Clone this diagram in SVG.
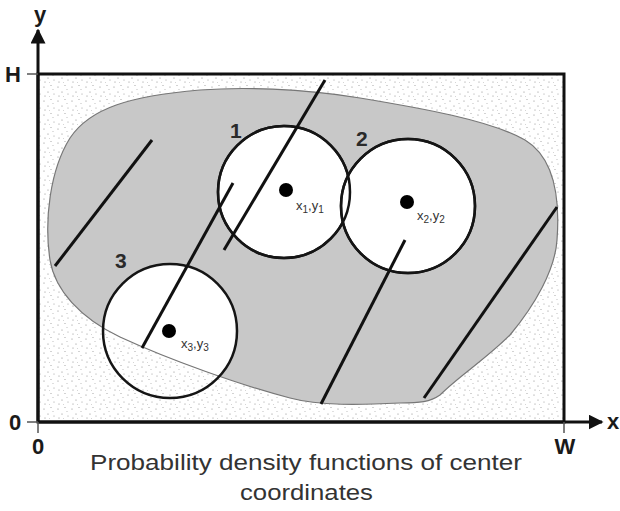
<svg xmlns="http://www.w3.org/2000/svg" width="620" height="511" viewBox="0 0 620 511">
<style>
.ax{stroke:#111;stroke-width:3;fill:none}
.tk{stroke:#555;stroke-width:1.5}
.big{font-family:"Liberation Sans",Arial,sans-serif;font-weight:bold;font-size:22px;fill:#1a1a1a}
.num{font-family:"Liberation Sans",Arial,sans-serif;font-weight:bold;font-size:21px;fill:#2a2a2a}
.sub{font-family:"Liberation Sans",Arial,sans-serif;font-size:13px;fill:#333}
.cap{font-family:"Liberation Sans",Arial,sans-serif;font-size:22px;fill:#333}
.circ{stroke:#151515;stroke-width:2.5}
.ln{stroke:#111;stroke-width:3}
.dot{fill:#000}
</style>
<defs>
<pattern id="stip" width="14" height="14" patternUnits="userSpaceOnUse">
<rect width="14" height="14" fill="#fff"/>
<circle cx="2" cy="3" r="0.6" fill="#888"/>
<circle cx="9" cy="1.5" r="0.55" fill="#999"/>
<circle cx="6" cy="8" r="0.6" fill="#888"/>
<circle cx="12" cy="10" r="0.55" fill="#999"/>
<circle cx="3" cy="12" r="0.55" fill="#888"/>
<circle cx="11" cy="5.5" r="0.5" fill="#aaa"/>
<circle cx="7.5" cy="12.5" r="0.45" fill="#aaa"/>
</pattern>
<path id="blobp" d="M 200 90 C 240 87, 300 88, 360 98 C 420 108, 490 120, 525 140 C 555 158, 560 200, 557 240 C 555 270, 535 305, 510 335 C 485 360, 460 375, 440 395 C 430 402, 420 403, 400 403 C 360 405, 320 406, 290 398 C 240 385, 170 360, 120 337 C 80 318, 55 290, 50 260 C 44 220, 50 170, 70 138 C 90 108, 130 96, 200 90 Z"/>
<clipPath id="c3clip"><circle cx="170" cy="331" r="67"/></clipPath>
<marker id="arr" viewBox="0 0 10 10" refX="9" refY="5" markerWidth="5" markerHeight="5" orient="auto" markerUnits="strokeWidth"><path d="M0,0 L10,5 L0,10 Z" fill="#111"/></marker>
</defs>
<rect width="620" height="511" fill="#fff"/>
<g id="field">
<rect x="38" y="74" width="526" height="348" fill="url(#stip)"/>
<use href="#blobp" fill="#c8c8c8"/>
</g>
<g id="circle1"><circle class="circ" cx="284" cy="192" r="66" fill="#fff"/></g>
<g id="circle2"><circle class="circ" cx="408" cy="206" r="67" fill="#fff"/></g>
<g id="circle3">
<g clip-path="url(#c3clip)"><use href="#blobp" fill="#fff"/></g>
</g>
<use href="#blobp" fill="none" stroke="#777" stroke-width="1.2"/>
<g id="circle-outlines" fill="none">
<circle class="circ" cx="284" cy="192" r="66"/>
<circle class="circ" cx="408" cy="206" r="67"/>
<circle class="circ" cx="170" cy="331" r="67"/>
</g>
<g id="connectors">
<line class="ln" x1="55" y1="266" x2="152" y2="140"/>
<line class="ln" x1="224" y1="250" x2="325" y2="80"/>
<line class="ln" x1="233" y1="183" x2="142" y2="348"/>
<line class="ln" x1="405" y1="240" x2="321" y2="404"/>
<line class="ln" x1="557" y1="207" x2="424" y2="398"/>
</g>
<g id="centers">
<circle class="dot" cx="286" cy="190" r="7"/>
<circle class="dot" cx="407" cy="202" r="7"/>
<circle class="dot" cx="169" cy="331" r="7"/>
<text class="sub" x="296" y="210">x<tspan font-size="10" dy="3">1</tspan><tspan dy="-3">,y</tspan><tspan font-size="10" dy="3">1</tspan></text>
<text class="sub" x="417" y="220">x<tspan font-size="10" dy="3">2</tspan><tspan dy="-3">,y</tspan><tspan font-size="10" dy="3">2</tspan></text>
<text class="sub" x="181" y="348">x<tspan font-size="10" dy="3">3</tspan><tspan dy="-3">,y</tspan><tspan font-size="10" dy="3">3</tspan></text>
</g>
<g id="labels">
<text class="num" x="230" y="138">1</text>
<text class="num" x="356" y="146">2</text>
<text class="num" x="115" y="268">3</text>
</g>
<g id="axes">
<rect class="ax" x="38" y="74" width="526" height="348"/>
<line class="ax" x1="38" y1="422" x2="38" y2="30" marker-end="url(#arr)"/>
<line class="ax" x1="38" y1="422" x2="602" y2="422" marker-end="url(#arr)"/>
<line class="tk" x1="27" y1="74" x2="38" y2="74"/>
<line class="tk" x1="27" y1="422" x2="38" y2="422"/>
<line class="tk" x1="38" y1="422" x2="38" y2="433"/>
<line class="tk" x1="564" y1="422" x2="564" y2="433"/>
<text class="big" x="40" y="22" text-anchor="middle">y</text>
<text class="big" x="13" y="82" text-anchor="middle">H</text>
<text class="big" x="15" y="430" text-anchor="middle">0</text>
<text class="big" x="38" y="454" text-anchor="middle">0</text>
<text class="big" x="565" y="454" text-anchor="middle">W</text>
<text class="big" x="613" y="429" text-anchor="middle">x</text>
</g>
<g id="caption">
<text class="cap" x="90" y="470" textLength="432" lengthAdjust="spacingAndGlyphs">Probability density functions of center</text>
<text class="cap" x="240" y="500" textLength="133" lengthAdjust="spacingAndGlyphs">coordinates</text>
</g>
</svg>
